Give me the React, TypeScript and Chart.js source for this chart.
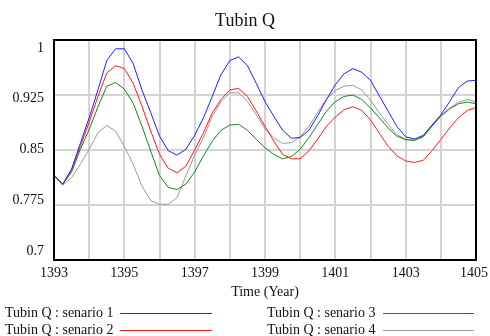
import React, { useEffect, useRef } from "react";
import { Chart, registerables } from "chart.js";

Chart.register(...registerables);

const TITLE = "Tubin Q";
const X_TITLE = "Time (Year)";

const times = [
  1393, 1393.25, 1393.5, 1393.75, 1394, 1394.25, 1394.5, 1394.75,
  1395, 1395.25, 1395.5, 1395.75, 1396, 1396.25, 1396.5, 1396.75,
  1397, 1397.25, 1397.5, 1397.75, 1398, 1398.25, 1398.5, 1398.75,
  1399, 1399.25, 1399.5, 1399.75, 1400, 1400.25, 1400.5, 1400.75,
  1401, 1401.25, 1401.5, 1401.75, 1402, 1402.25, 1402.5, 1402.75,
  1403, 1403.25, 1403.5, 1403.75, 1404, 1404.25, 1404.5, 1404.75,
  1405,
];

const senario1 = [
  0.815, 0.8035, 0.824, 0.859, 0.894, 0.932, 0.972, 0.988,
  0.988, 0.968, 0.932, 0.901, 0.869, 0.849, 0.843, 0.851,
  0.870, 0.894, 0.923, 0.953, 0.972, 0.977, 0.965, 0.941,
  0.916, 0.896, 0.877, 0.866, 0.867, 0.877, 0.897, 0.919,
  0.939, 0.954, 0.961, 0.956, 0.945, 0.924, 0.903, 0.882,
  0.868, 0.865, 0.870, 0.884, 0.898, 0.916, 0.935, 0.944,
  0.945,
];

const senario2 = [
  0.815, 0.8035, 0.823, 0.855, 0.888, 0.923, 0.955, 0.965,
  0.961, 0.941, 0.910, 0.876, 0.844, 0.825, 0.819, 0.828,
  0.850, 0.8735, 0.9006, 0.919, 0.932, 0.934, 0.923, 0.903,
  0.882, 0.862, 0.844, 0.838, 0.838, 0.849, 0.865, 0.8825,
  0.895, 0.905, 0.909, 0.904, 0.891, 0.873, 0.855, 0.842,
  0.835, 0.833, 0.836, 0.849, 0.8645, 0.880, 0.894, 0.904,
  0.908,
];

const senario3 = [
  0.815, 0.8035, 0.820, 0.851, 0.878, 0.909, 0.937, 0.942,
  0.933, 0.914, 0.8825, 0.8486, 0.815, 0.799, 0.796, 0.8035,
  0.820, 0.842, 0.862, 0.877, 0.884, 0.885, 0.877, 0.8645,
  0.853, 0.844, 0.838, 0.841, 0.851, 0.867, 0.885, 0.903,
  0.916, 0.923, 0.925, 0.919, 0.907, 0.894, 0.880, 0.869,
  0.864, 0.863, 0.868, 0.8825, 0.896, 0.906, 0.913, 0.9155,
  0.913,
];

const senario4 = [
  0.815, 0.802, 0.8125, 0.8306, 0.851, 0.8735, 0.8835, 0.8758,
  0.855, 0.8306, 0.801, 0.781, 0.776, 0.776, 0.785, 0.8147,
  0.843, 0.8667, 0.896, 0.916, 0.928, 0.928, 0.916, 0.898,
  0.879, 0.867, 0.859, 0.860, 0.868, 0.8825, 0.9015, 0.9196,
  0.931, 0.937, 0.938, 0.932, 0.918, 0.9006, 0.885, 0.871,
  0.8645, 0.8636, 0.869, 0.8835, 0.897, 0.907, 0.915, 0.919,
  0.9155,
];

const xGridYears = [1393, 1394, 1395, 1396, 1397, 1398, 1399, 1400, 1401, 1402, 1403, 1404, 1405];
const xTickLabels = [1393, 1395, 1397, 1399, 1401, 1403, 1405];
const yTickValues = [0.7, 0.775, 0.85, 0.925, 1];
const yTickLabels = ["0.7", "0.775", "0.85", "0.925", "1"];

const seriesLabels = [
  "Tubin Q : senario 1",
  "Tubin Q : senario 2",
  "Tubin Q : senario 3",
  "Tubin Q : senario 4",
];
const seriesColors = ["#1f1fff", "#ff1a1a", "#138a13", "#9a9a9a"];
const seriesValues = [senario1, senario2, senario3, senario4];

const FONT = "'Liberation Serif', 'Times New Roman', serif";

const decorPlugin = {
  id: "decor",
  afterDraw(chart: any) {
    const { ctx, chartArea } = chart;
    const { left, right, top, bottom } = chartArea;
    const xs = chart.scales.x;
    const ys = chart.scales.y;
    ctx.save();
    // frame
    ctx.strokeStyle = "#000";
    ctx.lineWidth = 2;
    ctx.strokeRect(left, top, right - left, bottom - top);

    ctx.fillStyle = "#111";
    // title
    ctx.font = `18px ${FONT}`;
    ctx.textAlign = "center";
    ctx.textBaseline = "middle";
    ctx.fillText(TITLE, 245, 21);

    // y labels (evenly spaced inside the frame)
    ctx.font = `14px ${FONT}`;
    ctx.textAlign = "right";
    const h = bottom - top;
    yTickValues.forEach((v, i) => {
      const py = ys.getPixelForValue(v);
      const ly = top + 8 + ((py - top) * (h - 17)) / h;
      ctx.fillText(yTickLabels[i], 44, ly);
    });

    // x labels
    ctx.textAlign = "center";
    xTickLabels.forEach((v) => {
      const px = xs.getPixelForValue(v);
      ctx.fillText(String(v), Math.min(px, 474), 273);
    });

    // x title
    ctx.fillText(X_TITLE, (left + right) / 2, 292);

    // legend
    const cols = [
      { tx: 5, l0: 120, l1: 212 },
      { tx: 267, l0: 383, l1: 474 },
    ];
    const rows = [313, 330];
    const order = [0, 2, 1, 3];
    order.forEach((si, k) => {
      const col = cols[k % 2];
      const row = rows[Math.floor(k / 2)];
      ctx.textAlign = "left";
      ctx.fillStyle = "#111";
      ctx.fillText(seriesLabels[si], col.tx, row);
      ctx.fillStyle = seriesColors[si];
      ctx.fillRect(col.l0, row, col.l1 - col.l0, 1);
    });
    ctx.restore();
  },
};

export default function App() {
  const ref = useRef<HTMLCanvasElement | null>(null);
  useEffect(() => {
    document.body.style.margin = "0";
    const canvas = ref.current;
    if (!canvas) return;
    const chart = new Chart(canvas, {
      type: "line",
      data: {
        datasets: seriesValues.map((vals, i) => ({
          label: seriesLabels[i],
          data: times.map((t, j) => ({ x: t, y: vals[j] })),
          borderColor: seriesColors[i],
          backgroundColor: seriesColors[i],
          borderWidth: 1,
          pointRadius: 0,
          tension: 0,
          fill: false,
        })),
      },
      options: {
        animation: false,
        responsive: false,
        devicePixelRatio: 1,
        layout: { padding: { left: 54, right: 14, top: 40, bottom: 76 } },
        plugins: {
          legend: { display: false },
          title: { display: false },
          tooltip: { enabled: false },
        },
        scales: {
          x: {
            type: "linear",
            min: 1393,
            max: 1405,
            afterBuildTicks: (s: any) => {
              s.ticks = xGridYears.map((v) => ({ value: v }));
            },
            afterFit: (s: any) => {
              s.height = 0;
            },
            ticks: { display: false },
            grid: { color: "#d4d4d4", lineWidth: 2, drawTicks: false },
            border: { display: false },
          },
          y: {
            type: "linear",
            min: 0.7,
            max: 1,
            afterBuildTicks: (s: any) => {
              s.ticks = yTickValues.map((v) => ({ value: v }));
            },
            afterFit: (s: any) => {
              s.width = 0;
            },
            ticks: { display: false },
            grid: { color: "#d4d4d4", lineWidth: 2, drawTicks: false },
            border: { display: false },
          },
        },
      },
      plugins: [decorPlugin],
    } as any);
    return () => chart.destroy();
  }, []);
  return (
    <div style={{ width: 490, height: 336 }}>
      <canvas ref={ref} width={490} height={336} style={{ display: "block" }} />
    </div>
  );
}
